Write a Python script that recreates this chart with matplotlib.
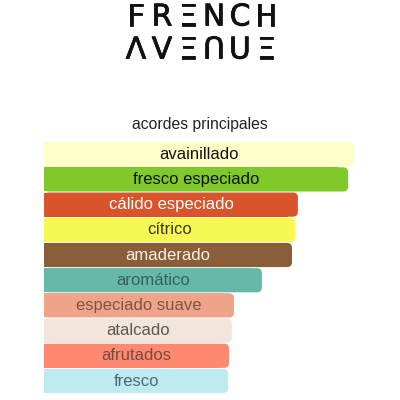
import matplotlib
matplotlib.use("Agg")
import matplotlib.pyplot as plt
import matplotlib.patheffects as pe
from matplotlib.patches import FancyBboxPatch

plt.rcParams['font.family'] = ['Liberation Sans', 'DejaVu Sans']

# accords and their relative strength (%)
accords = ['avainillado', 'fresco especiado', 'cálido especiado', 'cítrico', 'amaderado',
           'aromático', 'especiado suave', 'atalcado', 'afrutados', 'fresco']
strength = [100, 98.1, 81.9, 81.0, 80.0, 70.3, 61.3, 60.6, 59.7, 59.4]
bar_colors = ['#ffffc8', '#7fc92b', '#d9532b', '#f8f855', '#8b5e3a',
              '#66b8a8', '#efa48a', '#f2e6dc', '#fd8a70', '#c0eaf1']
text_colors = ['#111111', '#111111', '#ffffff', '#3a3a12', '#f8efe6',
               '#33635c', '#7a5548', '#5a5856', '#7a4a40', '#4a6a70']

fig = plt.figure(figsize=(4, 4), dpi=100)
fig.patch.set_facecolor('white')

# logo
logo_rows = [['F', 'R', 'Ξ', 'N', 'C', 'H'], ['Λ', 'V', 'Ξ', 'Ո', 'U', 'Ξ']]
for row, ys in zip(logo_rows, [17, 50]):
    for i, ch in enumerate(row):
        fig.text((136 + i * 26) / 400, 1 - ys / 400, ch, fontsize=21.5,
                 family='DejaVu Sans', ha='center', va='center', color='#111111',
                 path_effects=[pe.withStroke(linewidth=0.6, foreground='#111111')])

fig.text(0.5, 1 - 125 / 400, 'acordes principales', ha='center', va='center',
         fontsize=11.3, color='#222222')

ax = fig.add_axes([44 / 400, 1 - 393.6 / 400, 310 / 400, 252 / 400])
ax.set_xlim(0, 100)
ax.set_ylim(len(accords) - 0.5, -0.5)
ax.axis('off')

h = 0.96
r = 1.6
aspect = (1 / 25.2) / (1 / 3.1)
for i, (name, val, bc, tc) in enumerate(zip(accords, strength, bar_colors, text_colors)):
    ax.barh(i, val - 2 * r, height=h, left=0, color=bc, linewidth=0)
    box = FancyBboxPatch((0, i - h / 2), val, h,
                         boxstyle='round,pad=0,rounding_size=%s' % r,
                         mutation_aspect=aspect, facecolor=bc, edgecolor='none')
    ax.add_patch(box)
    ax.text(val / 2, i, name, ha='center', va='center', fontsize=12, color=tc)

fig.savefig('out.png', dpi=100)
